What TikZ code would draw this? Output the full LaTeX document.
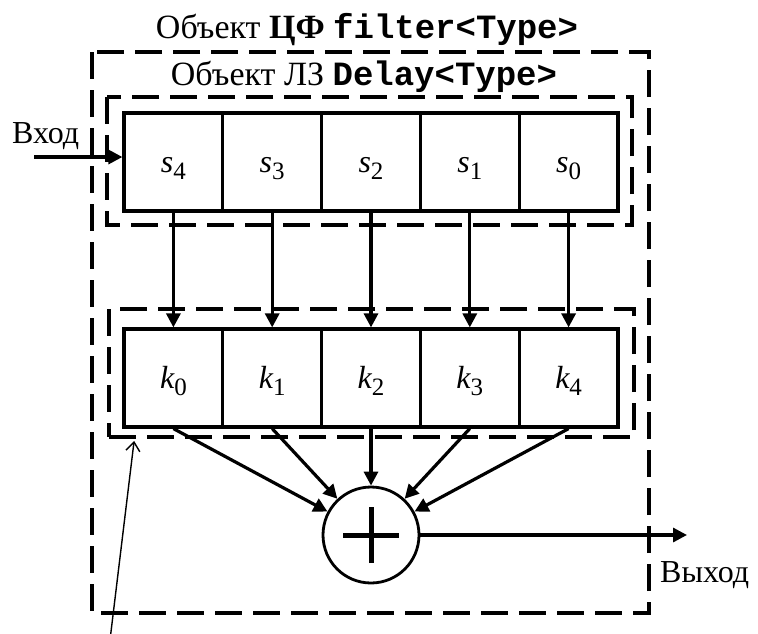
\documentclass[tikz,border=0pt]{standalone}
\usepackage{fontspec}
\setmainfont{Liberation Serif}
\setmonofont{Liberation Mono}
\usetikzlibrary{positioning,arrows.meta}
\newcommand{\cv}[2]{{\itshape #1}\raisebox{-7pt}{\fontsize{25}{25}\selectfont #2}}
\tikzset{
  cell/.style={draw,line width=3.2pt,minimum width=98.8pt,minimum height=98pt,inner sep=0pt,text height=28pt,text depth=8pt},
  frame/.style={draw,line width=3.8pt,dash pattern=on 27pt off 11pt},
  link/.style={line width=3.2pt,-{Triangle[length=14pt,width=14pt]}},
  big/.style={font=\fontsize{34}{40}\selectfont,inner sep=0pt},
}

\begin{document}
\begin{tikzpicture}[x=1pt,y=-1pt,every node/.style={font=\fontsize{32}{38}\selectfont}]
\useasboundingbox (0,0) rectangle (758,633);
% titles
\node[big,anchor=base] (ttl) at (367,38) {Объект \textbf{ЦФ} \texttt{\bfseries filter<Type>}};
\node[big,anchor=base] (dly) at (364,85) {Объект ЛЗ \texttt{\bfseries Delay<Type>}};
% frames
\draw[frame] (92,52) rectangle (649,613);
\draw[frame] (107,97) rectangle (632,225);
\node[frame,minimum width=525pt,minimum height=128pt,inner sep=0pt] (kgrp) at (371.5,373) {};
% delay cells, coefficient cells
\foreach \i/\n in {0/4,1/3,2/2,3/1,4/0}{
  \node[cell] (s\n) at (173.4+98.8*\i,162) {\cv{s}{\n}};
  \node[cell] (k\i) at (173.4+98.8*\i,378) {\cv{k}{\i}};
  \draw[link] (s\n) -- (k\i);}
% adder
\node[draw,circle,line width=2.8pt,minimum size=96pt,inner sep=0pt] (sum) at (371,535) {};
\draw[line width=5pt] ([xshift=-28pt]sum.center) -- ([xshift=28pt]sum.center)
  ([yshift=-28pt]sum.center) -- ([yshift=28pt]sum.center);
\foreach \i in {0,...,4}{\draw[link] (k\i.south) -- (sum);}
% input, output
\node[anchor=base west,inner sep=0pt] (vin) at (12,143) {Вход};
\coordinate (in) at (34,157);
\draw[link] (in) -- (s4.west|-in);
\coordinate (out) at (687,535);
\draw[link] (sum) -- (out);
\node[anchor=base west,inner sep=0pt] (vout) at (660,582) {Выход};
% pointer to the coefficient object
\coordinate (ptr) at (110,640);
\draw[line width=1.4pt,-{Straight Barb[length=9pt,width=14pt]}] (ptr) -- ([xshift=27pt,yshift=-2pt]kgrp.south west);
\end{tikzpicture}
\end{document}
